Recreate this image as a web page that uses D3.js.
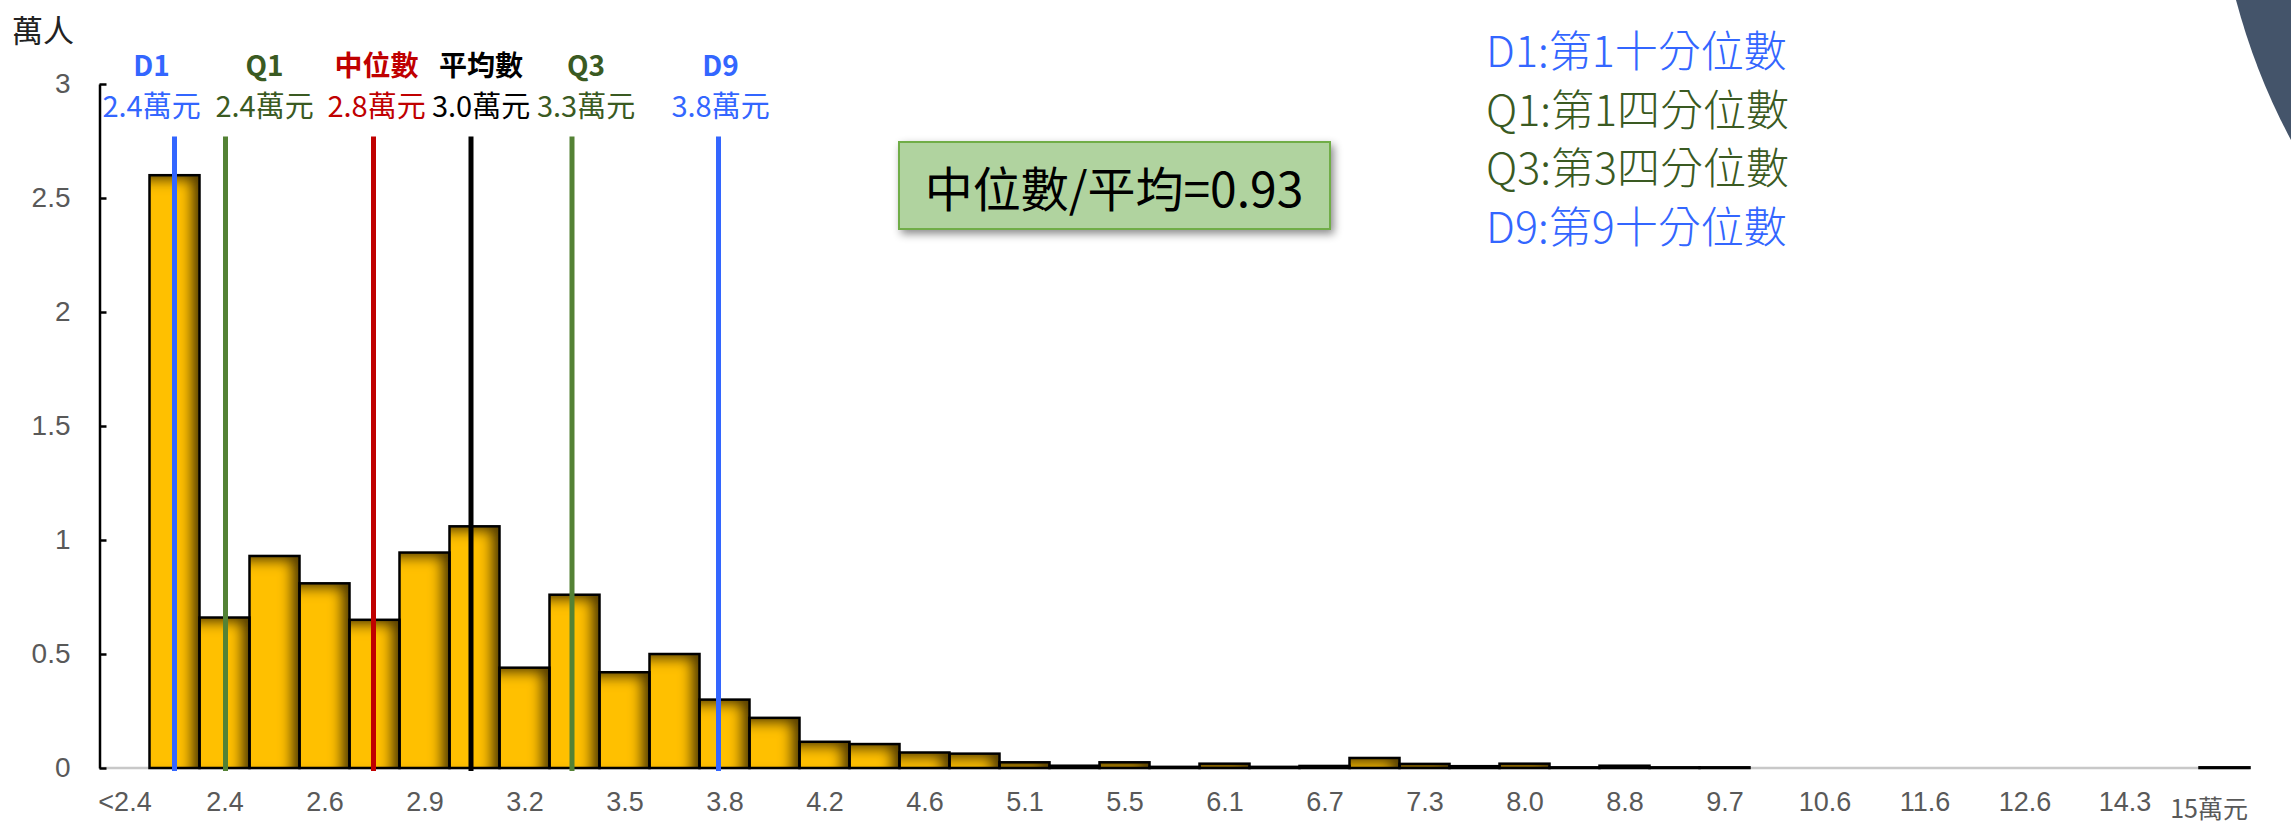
<!DOCTYPE html>
<html lang="zh-Hant">
<head>
<meta charset="UTF-8">
<title>薪資分布</title>
<script src="https://d3js.org/d3.v7.min.js"></script>
<style>
  body { margin: 0; background: #fff; }
  svg { display: block; }
  .tick-num { font-family: "Liberation Sans Narrow", "Liberation Sans", Arial, sans-serif; fill: #595959; }
  .cjk { font-family: "Noto Sans CJK TC", "Noto Sans", sans-serif; }
</style>
</head>
<body>
<svg width="2291" height="827"></svg>
<script>
// x tick labels (one every two bins)
var binLabels = ["<2.4", "2.4", "2.6", "2.9", "3.2", "3.5", "3.8", "4.2", "4.6", "5.1", "5.5",
                 "6.1", "6.7", "7.3", "8.0", "8.8", "9.7", "10.6", "11.6", "12.6", "14.3", "15萬元"];

// number of people per bin (萬人)
var counts = [0, 2.60, 0.66, 0.93, 0.81, 0.65, 0.945, 1.06, 0.44, 0.76,
              0.42, 0.50, 0.30, 0.22, 0.115, 0.105, 0.068, 0.063, 0.025, 0.01,
              0.025, 0.005, 0.019, 0.005, 0.009, 0.044, 0.018, 0.008, 0.019, 0.003,
              0.01, 0.003, 0.003, 0, 0, 0, 0, 0, 0, 0,
              0, 0, 0.003];

// statistics markers (position given in bin units)
var markerNames = ["D1", "Q1", "中位數", "平均數", "Q3", "D9"];
var markerValues = ["2.4", "2.4", "2.8", "3.0", "3.3", "3.8"];
var markerBins = [1.5, 2.52, 5.48, 7.43, 9.45, 12.38];

var legendLines = ["D1:第1十分位數", "Q1:第1四分位數", "Q3:第3四分位數", "D9:第9十分位數"];
var ratioText = "中位數/平均=0.93";

// layout / style
var lineColors = ["#3366ff", "#548235", "#c00000", "#000000", "#548235", "#3366ff"];
var textColors = ["#3366ff", "#3a5a22", "#c00000", "#000000", "#3a5a22", "#3366ff"];
var labelShift = [-23, 39, 3, 10, 14, 2];
var legendColors = ["#3366ff", "#3a5a22", "#3a5a22", "#3366ff"];

var svg = d3.select("svg");

var defs = svg.append("defs");
var f = defs.append("filter").attr("id", "inner")
  .attr("filterUnits", "userSpaceOnUse")
  .attr("x", 0).attr("y", 0).attr("width", 2291).attr("height", 827);
f.append("feComponentTransfer").attr("in", "SourceAlpha")
  .append("feFuncA").attr("type", "table").attr("tableValues", "1 0");
f.append("feGaussianBlur").attr("stdDeviation", 6);
f.append("feOffset").attr("dx", -10).attr("dy", 7).attr("result", "off");
f.append("feFlood").attr("flood-color", "#000").attr("flood-opacity", 0.9);
f.append("feComposite").attr("in2", "off").attr("operator", "in");
f.append("feComposite").attr("in2", "SourceAlpha").attr("operator", "in").attr("result", "sh");
var fm = f.append("feMerge");
fm.append("feMergeNode").attr("in", "SourceGraphic");
fm.append("feMergeNode").attr("in", "sh");

var ds = defs.append("filter").attr("id", "drop")
  .attr("x", "-10%").attr("y", "-20%").attr("width", "130%").attr("height", "160%");
ds.append("feDropShadow").attr("dx", 3).attr("dy", 4).attr("stdDeviation", 4)
  .attr("flood-color", "#000").attr("flood-opacity", 0.45);

var x = d3.scaleLinear().domain([0, counts.length]).range([99.5, 2249.5]);
var y = d3.scaleLinear().domain([0, 3]).range([768, 84]);

// baseline
svg.append("line")
  .attr("x1", x(0)).attr("x2", x(counts.length))
  .attr("y1", y(0)).attr("y2", y(0))
  .style("stroke", "#c8c8c8").style("stroke-width", 2.5);

// bars
var bars = counts.map(function(v, i) { return {v: v, i: i}; })
  .filter(function(d) { return d.v > 0; });

svg.append("g").selectAll("rect")
  .data(bars)
  .join("rect")
  .attr("x", function(d) { return x(d.i); })
  .attr("y", function(d) { return y(d.v); })
  .attr("width", x(1) - x(0))
  .attr("height", function(d) { return y(0) - y(d.v); })
  .style("fill", "#ffc000")
  .attr("filter", "url(#inner)");

svg.append("g").selectAll("rect")
  .data(bars)
  .join("rect")
  .attr("x", function(d) { return x(d.i); })
  .attr("y", function(d) { return y(d.v); })
  .attr("width", x(1) - x(0))
  .attr("height", function(d) { return y(0) - y(d.v); })
  .style("fill", "none")
  .style("stroke", "#000")
  .style("stroke-width", 2.5);

// y axis
var yAxis = svg.append("g")
  .attr("transform", "translate(" + x(0) + ",0)")
  .call(d3.axisLeft(y).tickValues([0, 0.5, 1, 1.5, 2, 2.5, 3])
    .tickSize(-7).tickSizeOuter(0).tickPadding(29)
    .tickFormat(d3.format("")));
yAxis.select(".domain").style("stroke", "#000").style("stroke-width", 2.5);
yAxis.selectAll(".tick line").style("stroke", "#000").style("stroke-width", 2.5);
yAxis.selectAll("text").attr("class", "tick-num").style("font-size", "28px");

// x axis labels
var xAxis = svg.append("g")
  .attr("transform", "translate(0," + y(0) + ")")
  .call(d3.axisBottom(x)
    .tickValues(binLabels.map(function(d, i) { return 2 * i + 0.5; }))
    .tickFormat(function(d, i) { return binLabels[i]; })
    .tickSize(0).tickPadding(24));
xAxis.select(".domain").remove();
xAxis.selectAll("text").attr("class", "tick-num").style("font-size", "27px");
xAxis.selectAll("text").filter(function(d, i) { return i === binLabels.length - 1; })
  .attr("dx", -16).attr("dy", "1.05em")
  .style("font-size", "25px")
  .style("font-family", "'Liberation Sans Narrow', 'Noto Sans CJK TC', sans-serif");

// y unit
svg.append("text").attr("class", "cjk")
  .attr("x", 12).attr("y", 42)
  .style("font-size", "31px").style("fill", "#222")
  .text("萬人");

// marker lines
svg.append("g").selectAll("line")
  .data(markerBins)
  .join("line")
  .attr("x1", function(d) { return x(d); })
  .attr("x2", function(d) { return x(d); })
  .attr("y1", y(2.77))
  .attr("y2", y(0) + 3)
  .style("stroke", function(d, i) { return lineColors[i]; })
  .style("stroke-width", 5);

// marker labels
var ml = svg.append("g").attr("class", "cjk").selectAll("g")
  .data(markerBins)
  .join("g")
  .attr("transform", function(d, i) { return "translate(" + (x(d) + labelShift[i]) + ",0)"; })
  .style("fill", function(d, i) { return textColors[i]; })
  .attr("text-anchor", "middle");
ml.append("text")
  .attr("y", 76)
  .style("font-size", "28px").style("font-weight", "bold")
  .text(function(d, i) { return markerNames[i]; });
ml.append("text")
  .attr("y", 117)
  .style("font-size", "29px")
  .text(function(d, i) { return markerValues[i] + "萬元"; });

// ratio box
var box = svg.append("g");
box.append("rect")
  .attr("x", 899).attr("y", 142).attr("width", 431).attr("height", 87)
  .style("fill", "#b0d39f").style("stroke", "#70ad47").style("stroke-width", 2)
  .attr("filter", "url(#drop)");
box.append("text").attr("class", "cjk")
  .attr("x", 1114).attr("y", 186)
  .attr("text-anchor", "middle").attr("dominant-baseline", "central")
  .style("font-size", "48px").style("fill", "#000")
  .text(ratioText);

// legend
svg.append("g").attr("class", "cjk").selectAll("text")
  .data(legendLines)
  .join("text")
  .attr("x", 1486)
  .attr("y", function(d, i) { return 48 + i * 58.7; })
  .attr("dominant-baseline", "central")
  .style("font-size", "43px")
  .style("font-weight", 300)
  .style("fill", function(d, i) { return legendColors[i]; })
  .text(function(d) { return d; });

// corner decoration
svg.append("path")
  .attr("d", "M2236,0 L2291,0 L2291,140 Q2256,75 2236,0 Z")
  .style("fill", "#44546a");
</script>
</body>
</html>
